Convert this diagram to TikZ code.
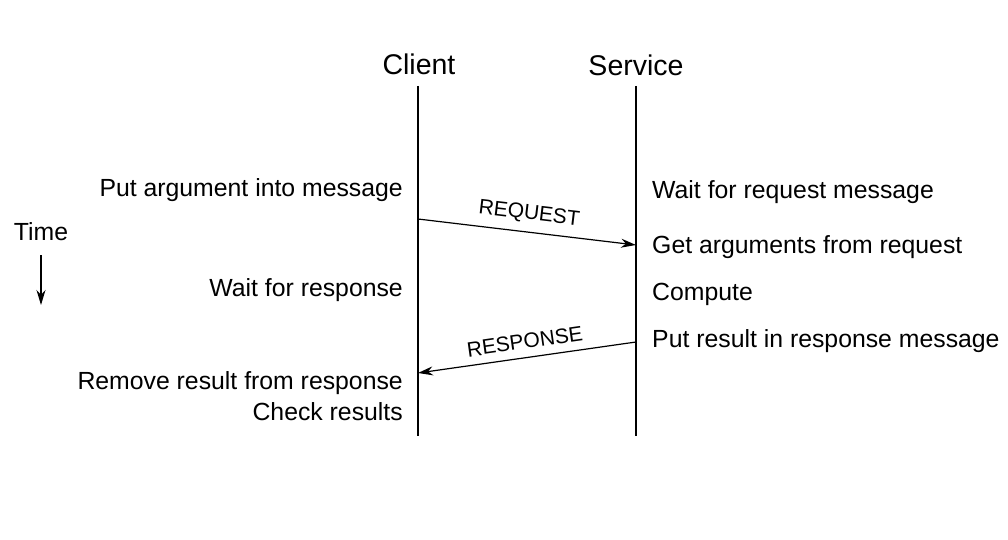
\documentclass[tikz,border=0pt]{standalone}
\usepackage{fontspec}
\setmainfont{Liberation Sans}
\usetikzlibrary{arrows.meta}
\begin{document}
\begin{tikzpicture}[x=1pt,y=-1pt,
  head/.style={font=\fontsize{28.5}{32}\selectfont},
  lbl/.style={font=\fontsize{24.8}{29}\selectfont, inner sep=0pt},
  msg/.style={font=\fontsize{21}{24}\selectfont, inner sep=0pt, sloped},
  life/.style={line width=1.2pt},
  arr/.style={line width=1.2pt, -{Stealth[length=15pt,width=9pt]}}]
\useasboundingbox (0,0) rectangle (1008,540);
% headers
\node[head] (client) at (419,64) {Client};
\node[head] (service) at (636,65) {Service};
% lifelines
\coordinate (ct) at (418,86);
\coordinate (cb) at (418,436);
\coordinate (st) at (636,86);
\coordinate (sb) at (636,436);
\draw[life] (ct) -- (cb);
\draw[life] (st) -- (sb);
% messages
\coordinate (rq1) at (418,219);
\coordinate (rq2) at (636,245);
\coordinate (rs1) at (636,342);
\coordinate (rs2) at (418,373);
\draw[arr] (rq1) -- node[msg, above=8pt] (req) {REQUEST} (rq2);
\draw[arr] (rs1) -- node[msg, above=8pt] (resp) {RESPONSE} (rs2);
% left labels
\node[lbl, anchor=east] (l1) at (403,190) {Put argument into message};
\node[lbl, anchor=east] (l2) at (403,290) {Wait for response};
\node[lbl, anchor=east] (l3) at (403,383) {Remove result from response};
\node[lbl, anchor=east] (l4) at (403,412) {Check results};
% right labels
\node[lbl, anchor=west] (r1) at (652,192) {Wait for request message};
\node[lbl, anchor=west] (r2) at (652,247) {Get arguments from request};
\node[lbl, anchor=west] (r3) at (652,294) {Compute};
\node[lbl, anchor=west] (r4) at (652,341) {Put result in response message};
% time
\node[lbl] (time) at (41,232) {Time};
\coordinate (t1) at (41,255);
\coordinate (t2) at (41,305);
\draw[line width=1.2pt, -{Stealth[length=15pt,width=9pt]}] (t1) -- (t2);
\end{tikzpicture}
\end{document}
